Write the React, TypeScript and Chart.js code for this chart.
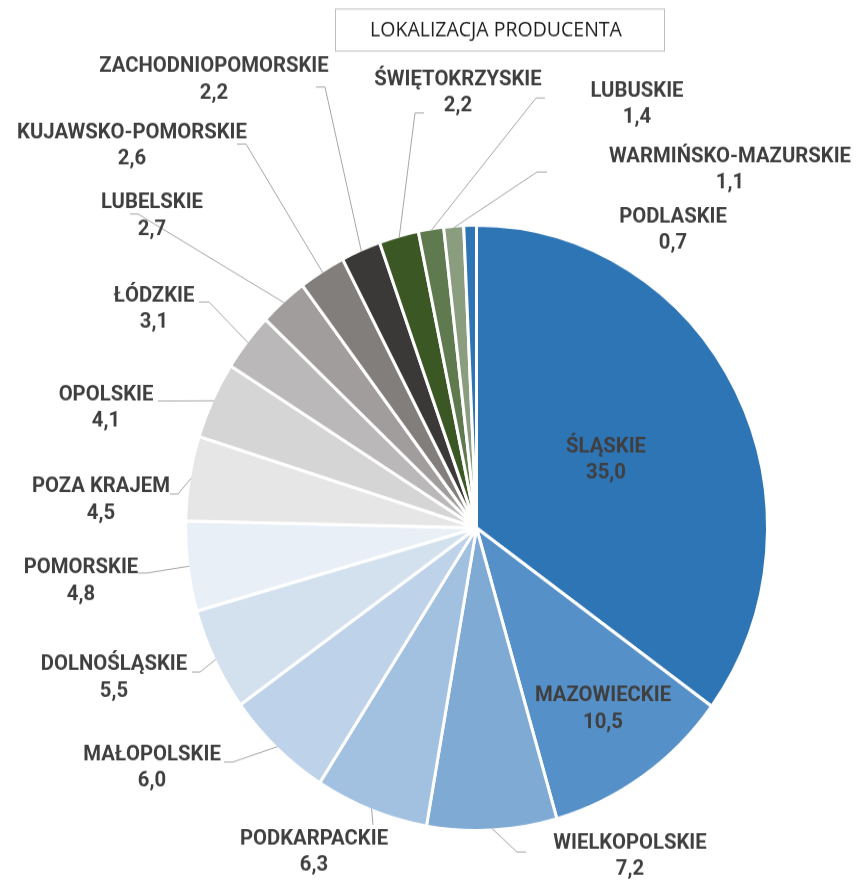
import React, { useEffect, useRef } from "react";
import { Chart, registerables } from "chart.js";

Chart.register(...registerables);

const title = "LOKALIZACJA PRODUCENTA";

const categories = [
  "ŚLĄSKIE",
  "MAZOWIECKIE",
  "WIELKOPOLSKIE",
  "PODKARPACKIE",
  "MAŁOPOLSKIE",
  "DOLNOŚLĄSKIE",
  "POMORSKIE",
  "POZA KRAJEM",
  "OPOLSKIE",
  "ŁÓDZKIE",
  "LUBELSKIE",
  "KUJAWSKO-POMORSKIE",
  "ZACHODNIOPOMORSKIE",
  "ŚWIĘTOKRZYSKIE",
  "LUBUSKIE",
  "WARMIŃSKO-MAZURSKIE",
  "PODLASKIE",
];

const values = [35.0, 10.5, 7.2, 6.3, 6.0, 5.5, 4.8, 4.5, 4.1, 3.1, 2.7, 2.6, 2.2, 2.2, 1.4, 1.1, 0.7];

const colors = [
  "#2E75B6",
  "#5690C8",
  "#7FAAD4",
  "#A2C0DF",
  "#BED3E9",
  "#D3E1EF",
  "#E8EFF7",
  "#E7E6E6",
  "#D6D5D5",
  "#BAB8B8",
  "#A09D9C",
  "#817E7C",
  "#3B3937",
  "#3A5724",
  "#607A50",
  "#8A9D7E",
  "#2E75B6",
];

// Page geometry: the drawing is stretched vertically (reference aspect)
const PAGE_W = 862;
const PAGE_H = 881;
const CANVAS_H = 847;
const K = PAGE_H / CANVAS_H;

// Label layout in page pixels: centre of first text line, optional leader elbow/end.
type Layout = { x: number; y: number; elbow?: [number, number]; end?: [number, number] };
const labelLayout: Layout[] = [
  { x: 606, y: 447 },
  { x: 603, y: 696 },
  { x: 630, y: 843, elbow: [517, 852], end: [526, 852] },
  { x: 314, y: 839, elbow: [373, 825], end: [373, 825] },
  { x: 152, y: 755, elbow: [233, 762], end: [224, 762] },
  { x: 114, y: 665, elbow: [200, 672], end: [192, 672] },
  { x: 81, y: 568, elbow: [147, 573], end: [138, 573] },
  { x: 101, y: 487, elbow: [178, 494], end: [170, 494] },
  { x: 106, y: 395, elbow: [167, 401], end: [158, 401] },
  { x: 154, y: 296, elbow: [209, 302], end: [199, 302] },
  { x: 152, y: 203, elbow: [138, 214], end: [130, 214] },
  { x: 132, y: 133, elbow: [246, 144], end: [237, 144] },
  { x: 214, y: 67, elbow: [325, 87], end: [316, 87] },
  { x: 458, y: 80, elbow: [415, 113], end: [424, 113] },
  { x: 637, y: 91, elbow: [536, 98], end: [545, 98] },
  { x: 730, y: 157, elbow: [537, 172], end: [547, 172] },
  { x: 673, y: 217 },
];

const LINE_GAP = 26.5;
const LABEL_FONT = "bold 20.3px Roboto, 'DejaVu Sans', sans-serif";
const TEXT_COLOR = "#3F3F3F";

const fmt = (v: number) => v.toFixed(1).replace(".", ",");

const labelPlugin = {
  id: "sliceLabels",
  afterDatasetsDraw(chart: any) {
    const ctx: CanvasRenderingContext2D = chart.ctx;
    const meta = chart.getDatasetMeta(0);
    ctx.save();

    // title box
    ctx.strokeStyle = "#BFBFBF";
    ctx.lineWidth = 1;
    ctx.strokeRect(335.5, 9 / K, 329, 42 / K);
    ctx.fillStyle = "#1E1E1E";
    ctx.font = "19.5px 'Open Sans', sans-serif";
    ctx.textAlign = "center";
    ctx.textBaseline = "middle";
    ctx.fillText(title, 496, 30.5 / K, 253);

    // leader lines
    ctx.strokeStyle = "#A6A6A6";
    ctx.lineWidth = 1;
    meta.data.forEach((arc: any, i: number) => {
      const L = labelLayout[i];
      if (!L || !L.elbow || !L.end) return;
      const p = arc.getProps(["x", "y", "startAngle", "endAngle", "outerRadius"], true);
      const mid = (p.startAngle + p.endAngle) / 2;
      const r = p.outerRadius - 1.5;
      const px = p.x + Math.cos(mid) * r;
      const py = p.y + Math.sin(mid) * r;
      ctx.beginPath();
      ctx.moveTo(px, py);
      ctx.lineTo(L.elbow[0], L.elbow[1] / K);
      ctx.lineTo(L.end[0], L.end[1] / K);
      ctx.stroke();
    });

    // labels
    ctx.font = LABEL_FONT;
    ctx.fillStyle = TEXT_COLOR;
    ctx.textAlign = "center";
    ctx.textBaseline = "middle";
    const labels = chart.data.labels as string[];
    const data = chart.data.datasets[0].data as number[];
    labels.forEach((name, i) => {
      const L = labelLayout[i];
      if (!L) return;
      const y = L.y / K;
      ctx.fillText(name, L.x, y);
      ctx.fillText(fmt(data[i]), L.x, y + LINE_GAP / K);
    });
    ctx.restore();
  },
};

export default function App() {
  const ref = useRef<HTMLCanvasElement | null>(null);

  useEffect(() => {
    if (!ref.current) return;
    const chart = new Chart(ref.current, {
      type: "pie",
      data: {
        labels: categories,
        datasets: [
          {
            data: values,
            backgroundColor: colors,
            borderColor: "#FFFFFF",
            borderWidth: 3,
            hoverOffset: 0,
          },
        ],
      },
      options: {
        animation: false,
        responsive: false,
        devicePixelRatio: 1,
        radius: 291,
        layout: { padding: { left: 181, right: 90, top: 210, bottom: 42 } },
        plugins: {
          legend: { display: false },
          tooltip: { enabled: false },
          title: { display: false },
        },
        events: [],
      } as any,
      plugins: [labelPlugin],
    });
    return () => chart.destroy();
  }, []);

  return (
    <div style={{ position: "absolute", left: 0, top: 0, width: PAGE_W, height: PAGE_H, background: "#FFFFFF" }}>
      <canvas
        ref={ref}
        width={PAGE_W}
        height={CANVAS_H}
        style={{ display: "block", width: PAGE_W + "px", height: PAGE_H + "px" }}
      />
    </div>
  );
}
